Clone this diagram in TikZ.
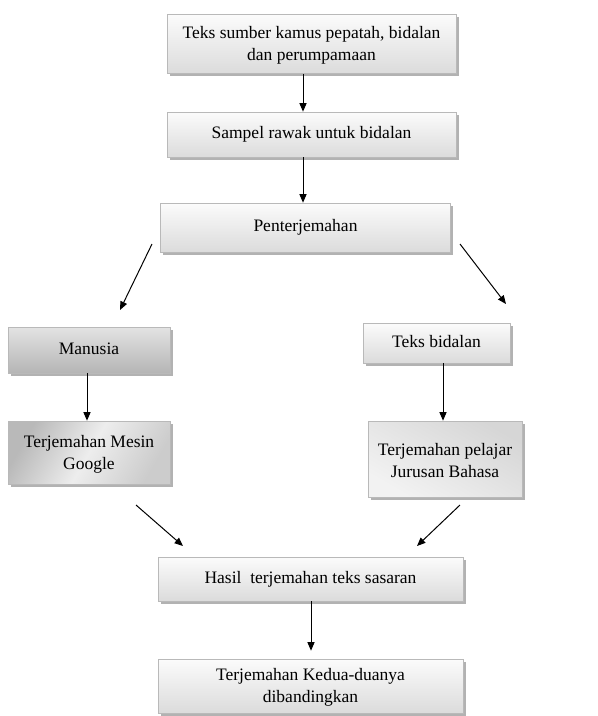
\documentclass[tikz,border=0pt]{standalone}
\usepackage{fontspec}
\setmainfont{Liberation Serif}
\usetikzlibrary{arrows.meta,shadows}
\begin{document}
\begin{tikzpicture}[x=1pt,y=-1pt,
  box/.style={draw=gray!55, line width=0.6pt, align=center,
    font=\fontsize{17.5}{22}\selectfont, inner sep=0pt,
    top color=gray!3, bottom color=gray!28,
    drop shadow={shadow xshift=2.5pt, shadow yshift=-2.5pt, fill=gray!75, opacity=0.8}},
  darkbox/.style={box, top color=gray!22, bottom color=gray!58},
  diagbox/.style={box, left color=gray!55, right color=gray!40, middle color=gray!14, shading angle=60},
  diagboxb/.style={box, top color=gray!32, bottom color=gray!10, shading angle=-30},
  arr/.style={-{Triangle[length=8.5pt,width=7pt]}, line width=1pt}]
\useasboundingbox (0,0) rectangle (598,716);

\node[box, minimum width=289pt, minimum height=59pt] (A) at (311.5,44)
  {\strut Teks sumber kamus pepatah, bidalan\\dan perumpamaan};
\node[box, minimum width=289pt, minimum height=45pt] (B) at (311.5,134.5)
  {\strut Sampel rawak untuk bidalan};
\node[box, minimum width=290pt, minimum height=49pt] (C) at (305.5,227.5)
  {\strut Penterjemahan};
\node[darkbox, minimum width=162pt, minimum height=46pt] (D) at (89,350)
  {\strut Manusia};
\node[box, minimum width=147pt, minimum height=40pt] (E) at (436.5,343)
  {\strut Teks bidalan};
\node[diagbox, minimum width=162pt, minimum height=63pt] (F) at (89,452.5)
  {\strut Terjemahan Mesin\\Google};
\node[diagboxb, minimum width=154pt, minimum height=76pt] (P) at (445,459)
  {\strut Terjemahan pelajar\\Jurusan Bahasa};
\node[box, minimum width=305pt, minimum height=44pt] (G) at (310.5,579)
  {\strut Hasil\ \ terjemahan teks sasaran};
\node[box, minimum width=305pt, minimum height=54pt] (H) at (310.5,686)
  {\strut Terjemahan Kedua-duanya\\dibandingkan};

\coordinate (c1) at (152,244);
\coordinate (c2) at (120,310);
\coordinate (c3) at (460,244);
\coordinate (c4) at (506,304);
\coordinate (c5) at (136,505);
\coordinate (c6) at (183,546);
\coordinate (c7) at (460,505);
\coordinate (c8) at (417,546);

\draw[arr] ([xshift=-8.5pt]A.south) -- ([xshift=-8.5pt]B.north);
\draw[arr] ([xshift=-8.5pt]B.south) -- ([xshift=-2.5pt]C.north);
\draw[arr] (c1) -- (c2);
\draw[arr] (c3) -- (c4);
\draw[arr] ([xshift=-2pt]D.south) -- ([xshift=-2pt]F.north);
\draw[arr] ([xshift=6.5pt]E.south) -- ([xshift=-2pt]P.north);
\draw[arr] (c5) -- (c6);
\draw[arr] (c7) -- (c8);
\draw[arr] ([xshift=0.5pt]G.south) -- ([xshift=0.5pt,yshift=8pt]H.north);
\end{tikzpicture}
\end{document}
